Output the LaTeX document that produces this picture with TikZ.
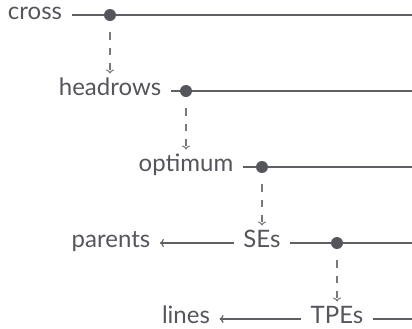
\documentclass[tikz,border=0pt]{standalone}
\usepackage{fontspec}
\setmainfont{Lato}
\usepackage{tikz}
\usetikzlibrary{arrows.meta, positioning, calc}
\definecolor{inkgray}{RGB}{85, 86, 92}
\definecolor{rulegray}{RGB}{95, 96, 100}
\definecolor{dashgray}{RGB}{120, 121, 126}
\tikzset{
  font=\fontsize{18pt}{20pt}\selectfont,
  termlabel/.style={
    text=inkgray, inner xsep=7pt, inner ysep=9.3pt,
    text height=0.72em, text depth=0pt, anchor=center
  },
  chainline/.style={draw=rulegray, line width=0.9pt},
  backarrow/.style={chainline, -{To[length=3pt, width=6pt]}},
  joindot/.style={circle, fill=inkgray, inner sep=0pt, minimum size=9pt},
  dropline/.style={
    draw=dashgray, line width=0.8pt, dash pattern=on 5.5pt off 6pt,
    -{To[length=3pt, width=6pt]}, shorten <=8.25pt
  }
}
\begin{document}
\begin{tikzpicture}[x=0.75pt, y=-0.75pt]
  \useasboundingbox (0,0) rectangle (412,329);

  % terms, one row each
  \node[termlabel] (cross) at (35,15) {cross};
  \node[termlabel] (headrows) at (110,91) {headrows};
  \node[termlabel] (optimum) at (186,167) {optimum};
  \node[termlabel] (SEs) at (262,243) {SEs};
  \node[termlabel] (TPEs) at (337,319) {TPEs};
  \node[termlabel] (parents) at (111,243) {parents};
  \node[termlabel] (lines) at (186,319) {lines};

  % right ends of the rows
  \coordinate (crossend) at (412,15);
  \coordinate (headrowsend) at (412,91);
  \coordinate (optimumend) at (412,167);
  \coordinate (SEsend) at (412,243);
  \coordinate (TPEsend) at (412,319);

  \draw[chainline] (cross) -- (crossend);
  \draw[chainline] (headrows) -- (headrowsend);
  \draw[chainline] (optimum) -- (optimumend);
  \draw[chainline] (SEs) -- (SEsend);
  \draw[chainline] (TPEs) -- (TPEsend);
  \draw[backarrow] (SEs) -- (parents);
  \draw[backarrow] (TPEs) -- (lines);

  \node[joindot] (crossdot) at (headrows |- cross) {};
  \node[joindot] (headrowsdot) at (optimum |- headrows) {};
  \node[joindot] (optimumdot) at (SEs |- optimum) {};
  \node[joindot] (SEsdot) at (TPEs |- SEs) {};

  \draw[dropline] (crossdot) -- (headrows);
  \draw[dropline] (headrowsdot) -- (optimum);
  \draw[dropline] (optimumdot) -- (SEs);
  \draw[dropline] (SEsdot) -- (TPEs);
\end{tikzpicture}
\end{document}
